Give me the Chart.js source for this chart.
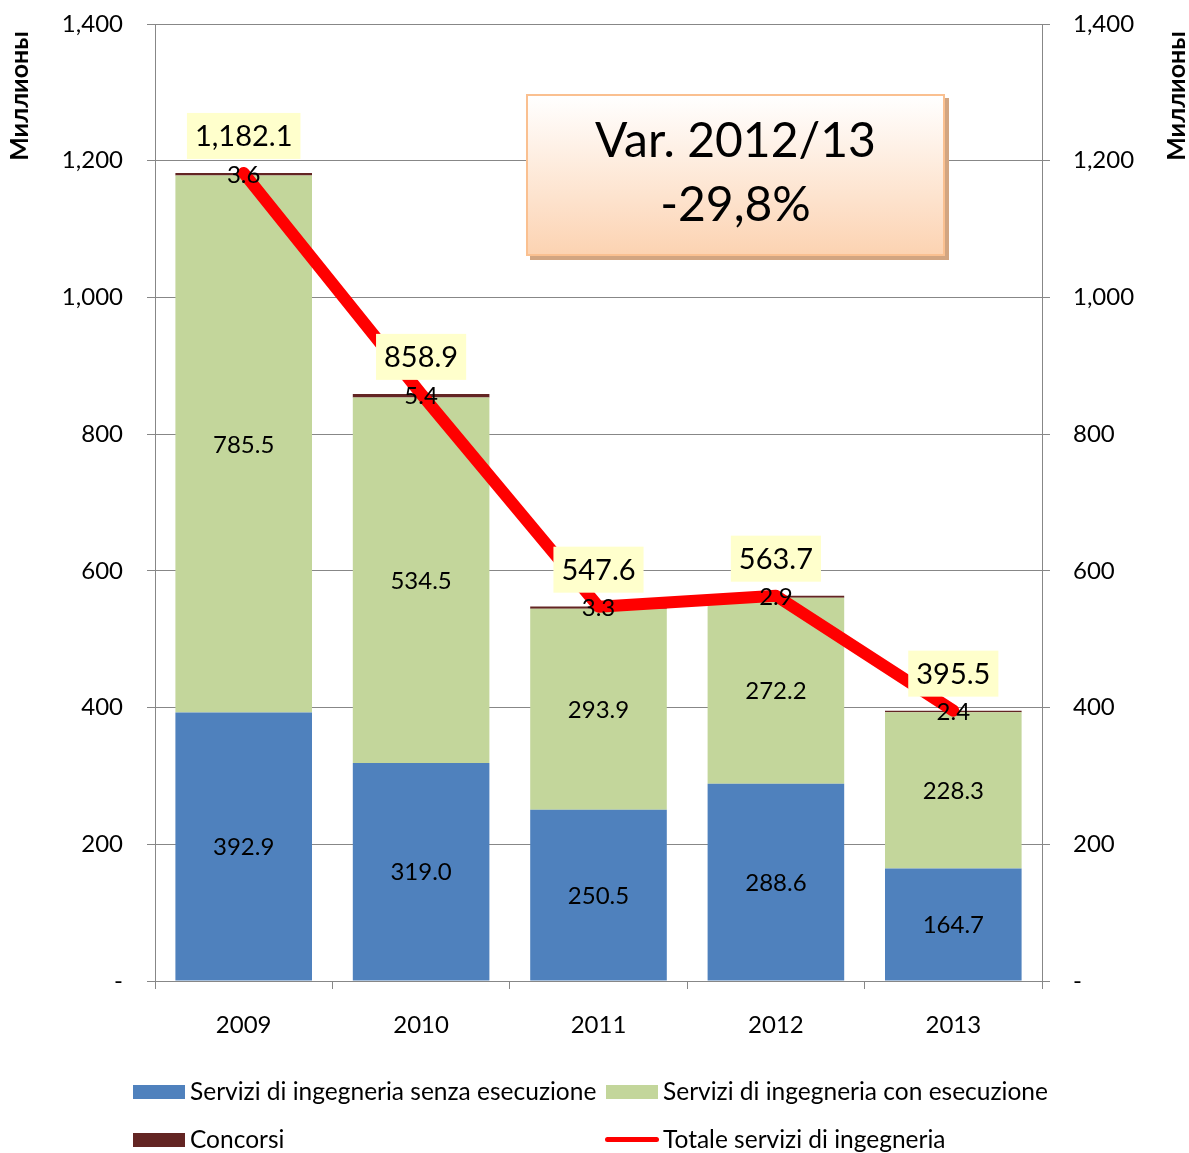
<!DOCTYPE html>
<html>
<head>
<meta charset="utf-8">
<script src="https://cdn.jsdelivr.net/npm/chart.js@4/dist/chart.umd.min.js"></script>
<style>
  body { margin: 0; background: #fff; font-family: Lato, "Open Sans", sans-serif; }
  #wrap { position: relative; width: 1189px; height: 1153px; }
  #chart { position: absolute; left: 0; top: 0; }
  .note {
    position: absolute; left: 526px; top: 94px; width: 415px;
    border: 2px solid #fac090;
    background: linear-gradient(#ffffff, #fcd3b2);
    box-shadow: 4px 4px 0 #d2a581;
    text-align: center; font-size: 48px; line-height: 64px; padding-top: 11px;
    height: 147px; color: #000;
  }
  .lg { position: absolute; font-size: 24.5px; line-height: 26px; color: #000; white-space: nowrap; }
  .sw { position: absolute; width: 52px; height: 14px; }
  .ln { position: absolute; width: 54px; height: 5px; border-radius: 3px; background: #ff0000; }
</style>
</head>
<body>
<div id="wrap">
  <canvas id="chart" width="1189" height="1153"></canvas>
  <div class="note">Var. 2012/13<br>-29,8%</div>
  <div class="sw" style="left:133px;top:1085px;background:#4f81bd"></div>
  <div class="lg" style="left:190px;top:1078px">Servizi di ingegneria senza esecuzione</div>
  <div class="sw" style="left:606px;top:1085px;background:#c3d69b"></div>
  <div class="lg" style="left:663px;top:1078px">Servizi di ingegneria con esecuzione</div>
  <div class="sw" style="left:133px;top:1133px;background:#632523"></div>
  <div class="lg" style="left:190px;top:1126px">Concorsi</div>
  <div class="ln" style="left:605px;top:1137px"></div>
  <div class="lg" style="left:663px;top:1126px">Totale servizi di ingegneria</div>
</div>
<script>
// data (millions)
const years = ["2009", "2010", "2011", "2012", "2013"];
const senzaEsecuzione = [392.9, 319.0, 250.5, 288.6, 164.7];
const conEsecuzione = [785.5, 534.5, 293.9, 272.2, 228.3];
const concorsi = [3.6, 5.4, 3.3, 2.9, 2.4];
const totale = [1182.1, 858.9, 547.6, 563.7, 395.5];
const yTicks = [0, 200, 400, 600, 800, 1000, 1200, 1400];

const FONT = "Lato, 'Open Sans', sans-serif";
const GRID = "#878787";

function fmt(v) {
  return v.toLocaleString("en-US", { minimumFractionDigits: 1, maximumFractionDigits: 1 });
}
function tickFmt(v) {
  return v === 0 ? "-" : v.toLocaleString("en-US");
}

// value labels + axis titles
const labelsPlugin = {
  id: "labels",
  afterDatasetsDraw(chart) {
    const c = chart.ctx;
    c.save();
    c.textAlign = "center";
    c.textBaseline = "middle";
    c.fillStyle = "#000";
    // bar segment labels
    c.font = "24px " + FONT;
    [0, 1, 2].forEach((di) => {
      const meta = chart.getDatasetMeta(di);
      const vals = chart.data.datasets[di].data;
      meta.data.forEach((bar, i) => {
        c.fillText(fmt(vals[i]), bar.x, (bar.y + bar.base) / 2 + 1);
      });
    });
    // line labels with yellow boxes
    c.font = "29px " + FONT;
    const lm = chart.getDatasetMeta(3);
    lm.data.forEach((pt, i) => {
      const txt = fmt(totale[i]);
      const w = c.measureText(txt).width + 16;
      const h = 46;
      const cy = pt.y - 37;
      c.fillStyle = "#ffffcc";
      c.fillRect(pt.x - w / 2, cy - h / 2, w, h);
      c.fillStyle = "#000";
      c.fillText(txt, pt.x, cy + 1);
    });
    // axis titles (both read bottom to top)
    c.font = "bold 25px " + FONT;
    [[20, 96], [1177, 96]].forEach(([x, y]) => {
      c.save();
      c.translate(x, y);
      c.rotate(-Math.PI / 2);
      c.fillText("Миллионы", 0, 0);
      c.restore();
    });
    c.restore();
  }
};

function fitY(width) {
  return (s) => {
    s.width = width;
    s.paddingTop = 0;
    s.paddingBottom = 0;
  };
}

const ctx = document.getElementById("chart").getContext("2d");
new Chart(ctx, {
  type: "bar",
  data: {
    labels: years,
    datasets: [
      { label: "Servizi di ingegneria senza esecuzione", data: senzaEsecuzione, backgroundColor: "#4f81bd", stack: "s", order: 1 },
      { label: "Servizi di ingegneria con esecuzione", data: conEsecuzione, backgroundColor: "#c3d69b", stack: "s", order: 1 },
      { label: "Concorsi", data: concorsi, backgroundColor: "#632523", stack: "s", order: 1 },
      {
        type: "line", label: "Totale servizi di ingegneria", data: totale, stack: "line", order: 0,
        borderColor: "#ff0000", borderWidth: 12, pointRadius: 0,
        borderCapStyle: "round", borderJoinStyle: "round", tension: 0
      }
    ]
  },
  options: {
    responsive: false,
    animation: false,
    layout: { padding: { top: 24, left: 0, right: 0, bottom: 0 } },
    plugins: { legend: { display: false }, tooltip: { enabled: false } },
    datasets: { bar: { categoryPercentage: 1, barPercentage: 0.77 } },
    scales: {
      x: {
        stacked: true,
        afterFit: (s) => { s.height = 172; },
        grid: { offset: true, drawOnChartArea: false, color: GRID, tickLength: 8 },
        border: { color: GRID },
        ticks: { color: "#000", font: { family: FONT, size: 24 }, padding: 22 }
      },
      y: {
        stacked: true, position: "left", min: 0, max: 1400,
        afterFit: fitY(155),
        afterBuildTicks: (s) => { s.ticks = yTicks.map((v) => ({ value: v })); },
        grid: { color: GRID, tickLength: 8 },
        border: { color: GRID },
        ticks: { color: "#000", font: { family: FONT, size: 24 }, padding: 24, callback: tickFmt }
      },
      y2: {
        position: "right", min: 0, max: 1400,
        afterFit: fitY(147),
        afterBuildTicks: (s) => { s.ticks = yTicks.map((v) => ({ value: v })); },
        grid: { drawOnChartArea: false, color: GRID, tickLength: 8 },
        border: { color: GRID },
        ticks: { color: "#000", font: { family: FONT, size: 24 }, padding: 23, callback: tickFmt }
      }
    }
  },
  plugins: [labelsPlugin]
});
</script>
</body>
</html>
